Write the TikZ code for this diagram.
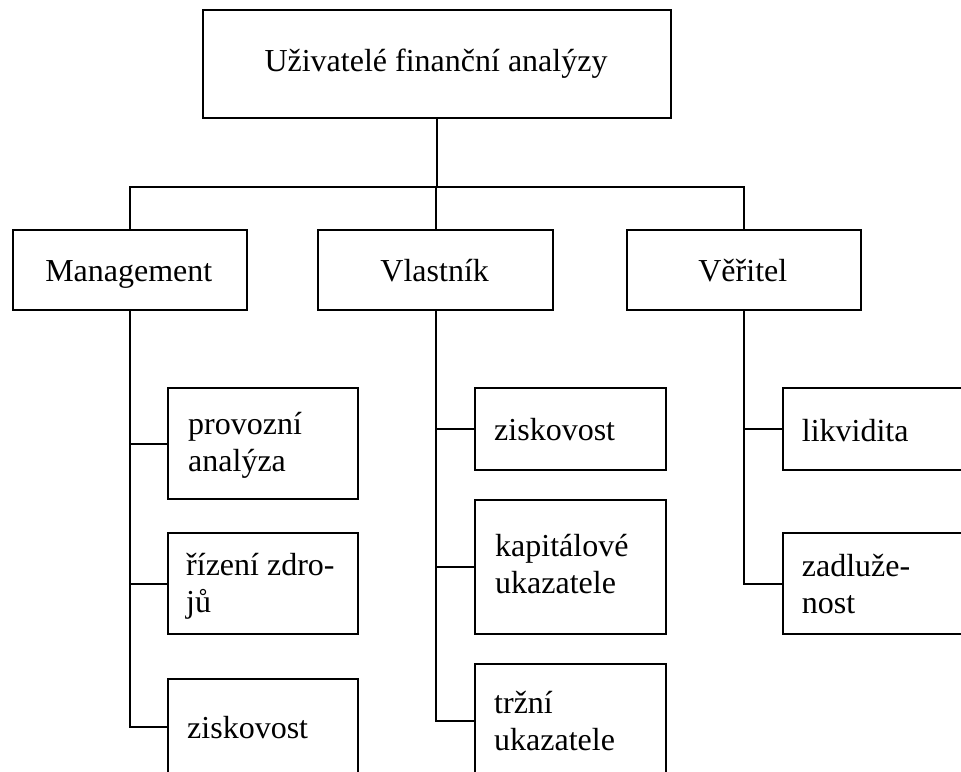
\documentclass[tikz,border=0pt]{standalone}
\usepackage{fontspec}
\setmainfont{Liberation Serif}
\begin{document}
\begin{tikzpicture}[x=1pt,y=-1pt,
  box/.style={draw, line width=2pt, inner sep=0pt, rectangle, anchor=north west},
  lbl/.style={inner sep=0pt, font=\fontsize{32}{37}\selectfont, align=left, anchor=base west},
  ctr/.style={inner sep=0pt, font=\fontsize{32}{37}\selectfont, anchor=base},
  link/.style={line width=2pt}]
\clip (0,0) rectangle (961,771);
% boxes
\node[box, minimum width=468.3pt, minimum height=107.4pt] (top) at (201.7,9.3) {};
\node[box, minimum width=234.3pt, minimum height=79.4pt] (mgmt) at (11.7,229.3) {};
\node[box, minimum width=234.7pt, minimum height=79.4pt] (vl) at (317.3,229.3) {};
\node[box, minimum width=234.3pt, minimum height=79.4pt] (ve) at (625.7,229.3) {};
\node[box, minimum width=190pt, minimum height=111pt] (m1) at (167.3,387.3) {};
\node[box, minimum width=190pt, minimum height=100.4pt] (m2) at (167.3,532.3) {};
\node[box, minimum width=190pt, minimum height=94.8pt] (m3) at (167.3,678.3) {};
\node[box, minimum width=191pt, minimum height=81.7pt] (v1) at (474,387.3) {};
\node[box, minimum width=191pt, minimum height=134pt] (v2) at (474,499.3) {};
\node[box, minimum width=191pt, minimum height=113.4pt] (v3) at (474,663.3) {};
\node[box, minimum width=200pt, minimum height=81.7pt] (c1) at (781.7,387.3) {};
\node[box, minimum width=200pt, minimum height=101pt] (c2) at (781.7,532.3) {};
% texts (multi-line nodes: base = last line)
\node[ctr] (toptext) at (436,71.7) {Uživatelé finanční analýzy};
\node[ctr] (mgmttext) at (128.8,281) {Management};
\node[ctr] (vltext) at (434.7,281) {Vlastník};
\node[ctr] (vetext) at (742.8,281) {Věřitel};
\node[lbl] (m1t) at (188,471.5) {provozní\\analýza};
\node[lbl] (m2t) at (186,612) {řízení zdro-\\jů};
\node[lbl] (m3t) at (187,738) {ziskovost};
\node[lbl] (v1t) at (494,440) {ziskovost};
\node[lbl] (v2t) at (495,593.5) {kapitálové\\ukazatele};
\node[lbl] (v3t) at (494,750) {tržní\\ukazatele};
\node[lbl] (c1t) at (801.7,441) {likvidita};
\node[lbl] (c2t) at (801.7,613) {zadluže-\\nost};
% connectors
\coordinate (bus) at (436,187.3);
\draw[link] (top.south) -- (top.south |- bus);
\draw[link] (mgmt.north) |- (bus) -| (ve.north);
\draw[link] (vl.north) -- (vl.north |- bus);
\draw[link] (mgmt.south) |- (m3.west);
\draw[link] (m1.west) -- (m1.west -| mgmt.south);
\draw[link] (m2.west) -- (m2.west -| mgmt.south);
\draw[link] (vl.south) |- (v3.west);
\draw[link] (v1.west) -- (v1.west -| vl.south);
\draw[link] (v2.west) -- (v2.west -| vl.south);
\draw[link] (ve.south) |- (c2.west);
\draw[link] (c1.west) -- (c1.west -| ve.south);
\end{tikzpicture}
\end{document}
